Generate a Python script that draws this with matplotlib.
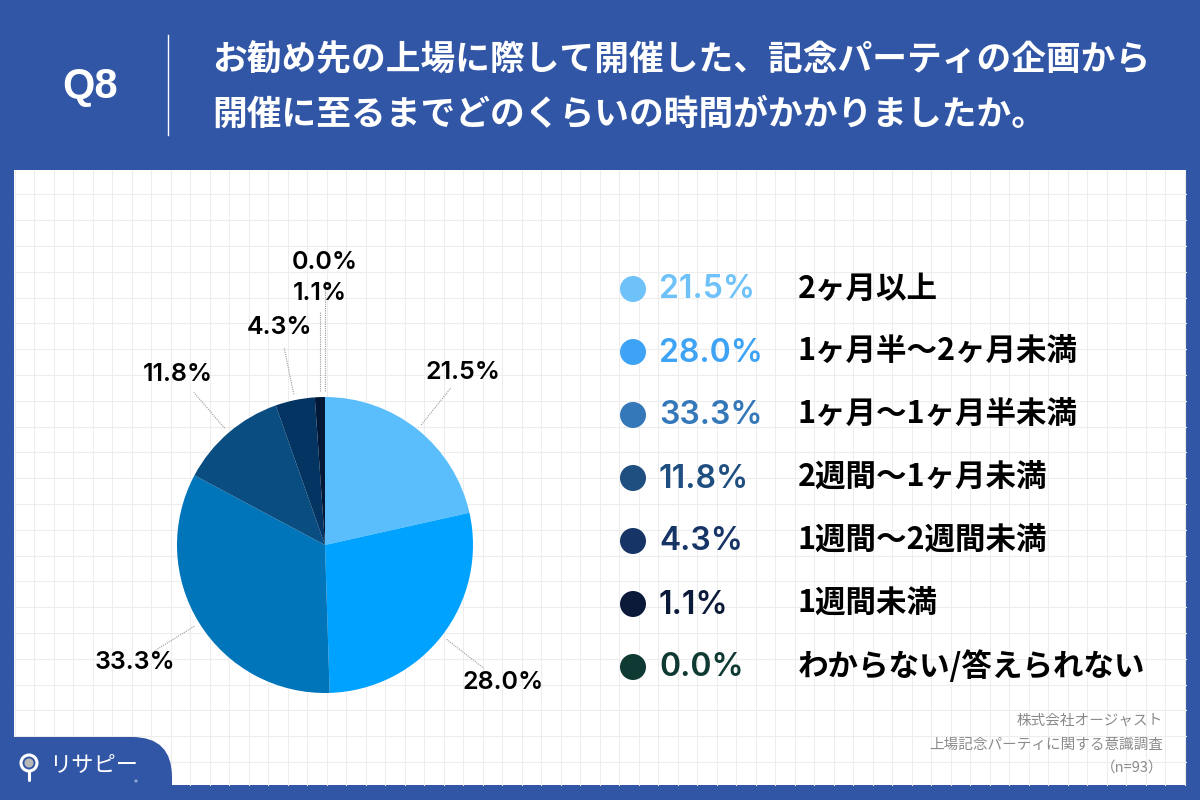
import numpy as np
import matplotlib
matplotlib.use("Agg")
import matplotlib.pyplot as plt
from matplotlib.patches import Rectangle, FancyBboxPatch, Circle

plt.rcParams['font.family'] = ['Noto Sans CJK JP', 'DejaVu Sans']

# ---------------- data ----------------
categories = ["2ヶ月以上", "1ヶ月半〜2ヶ月未満", "1ヶ月〜1ヶ月半未満", "2週間〜1ヶ月未満",
              "1週間〜2週間未満", "1週間未満", "わからない/答えられない"]
values = [21.5, 28.0, 33.3, 11.8, 4.3, 1.1, 0.0]
pie_colors = ["#5BBEFC", "#00A2FF", "#0075BA", "#0A4D80", "#033462", "#021837", "#0F3A33"]
legend_colors = ["#6EC1F9", "#3FA3F5", "#3478BA", "#1F4E80", "#163466", "#0B1A38", "#0F3A33"]
title_lines = ["お勧め先の上場に際して開催した、記念パーティの企画から",
               "開催に至るまでどのくらいの時間がかかりましたか。"]
question = "Q8"
source_lines = ["株式会社オージャスト", "上場記念パーティに関する意識調査", "（n=93）"]
brand = "リサピー"

NUM_FONT = ["Inter", "Liberation Sans", "DejaVu Sans"]

# ---------------- layout ----------------
W, H = 1200, 800
BG = "#3256A6"
fig = plt.figure(figsize=(12, 8), dpi=100, facecolor=BG)
bg = fig.add_axes([0, 0, 1, 1])
bg.set_xlim(0, W)
bg.set_ylim(H, 0)
bg.axis("off")
bg.set_facecolor(BG)

# white panel
px0, py0, px1, py1 = 14, 170, 1186, 785
bg.add_patch(Rectangle((px0, py0), px1 - px0, py1 - py0, facecolor="white", edgecolor="none", zorder=1))
# grid
gx = np.arange(px0 + 0.7, px1, 19.5)
gy = np.arange(py0 + 24.3 - 25.8, py1, 25.8)
for x in gx:
    bg.plot([x, x], [py0, py1], color="#EDEDED", lw=0.8, zorder=2)
for y in gy:
    if y > py0:
        bg.plot([px0, px1], [y, y], color="#EDEDED", lw=0.8, zorder=2)

# header
bg.text(90, 87, question, color="white", fontsize=30, fontweight="bold",
        family=["Liberation Sans", "DejaVu Sans"], ha="center", va="center", zorder=5)
bg.plot([168, 168], [35, 135], color="white", lw=1.0, zorder=5)
for i, line in enumerate(title_lines):
    bg.text(212, 60 + i * 54, line, color="white", fontsize=25, fontweight="bold",
            ha="left", va="center", zorder=5)

# bottom-left brand tab
bg.add_patch(FancyBboxPatch((-60, 737), 232, 150, boxstyle="round,pad=0,rounding_size=40",
                            facecolor=BG, edgecolor="none", zorder=6))
bg.add_patch(Circle((29, 763), 8, facecolor="none", edgecolor="white", lw=2.2, zorder=7))
bg.add_patch(Circle((29, 763), 4.5, facecolor="#B8B8B8", edgecolor="none", zorder=7))
bg.plot([29, 29], [771, 780], color="white", lw=2.2, zorder=7, solid_capstyle="round")
bg.text(49, 765, brand, color="white", fontsize=16, ha="left", va="center", zorder=7)
bg.add_patch(Circle((136, 781), 1.6, facecolor="#8FA3CF", edgecolor="none", zorder=7))

# source
for i, line in enumerate(source_lines):
    bg.text(1163, 721 + i * 23.5, line, color="#8A8A8A", fontsize=10.5,
            ha="right", va="center", zorder=5)

# legend
ly0, ldy = 289, 63
for i, (cat, val, col) in enumerate(zip(categories, values, legend_colors)):
    y = ly0 + i * ldy
    bg.add_patch(Circle((633, y), 13, facecolor=col, edgecolor="none", zorder=5))
    bg.text(659, y + 1, f"{val:.1f}%", color=col, fontsize=23, ha="left", va="center",
            family=NUM_FONT, fontweight="semibold", zorder=5)
    bg.text(798, y, cat, color="black", fontsize=22, fontweight="bold",
            ha="left", va="center", zorder=5)

# ---------------- pie ----------------
cx, cy, R = 325, 545, 148
half = 200
L = half / R
pax = fig.add_axes([(cx - half) / W, (H - cy - half) / H, 2 * half / W, 2 * half / H])
pax.pie(values, colors=pie_colors, startangle=90, counterclock=False, radius=1.0,
        wedgeprops=dict(linewidth=0))
pax.set_xlim(-L, L)
pax.set_ylim(-L, L)
pax.set_aspect("equal")
pax.axis("off")
pax.patch.set_alpha(0)

# label layout (radii in pie-radius units); last two go straight up
label_r = [1.49, 1.52, 1.51, 1.52, 1.50, 1.70, 1.91]
vertical = [False, False, False, False, False, True, True]
cum = np.cumsum([0] + values[:-1])
mids = cum + np.array(values) / 2.0
for i, val in enumerate(values):
    theta = np.deg2rad(90 - mids[i] * 3.6)
    ex, ey = 1.04 * np.cos(theta), 1.04 * np.sin(theta)
    if vertical[i]:
        lx, ly = ex, label_r[i]
        line_end = (ex, ly - 0.12)
    else:
        lx, ly = label_r[i] * np.cos(theta), label_r[i] * np.sin(theta)
        line_end = (1.36 * np.cos(theta), 1.36 * np.sin(theta))
    pax.plot([ex, line_end[0]], [ey, line_end[1]], color="#9A9A9A", lw=0.8,
             linestyle=(0, (1, 1)), clip_on=False)
    pax.text(lx, ly, f"{val:.1f}%", color="black", fontsize=18, fontweight="semibold",
             family=NUM_FONT, ha="center", va="center", clip_on=False)

fig.savefig("out.png", dpi=100, facecolor=BG)
